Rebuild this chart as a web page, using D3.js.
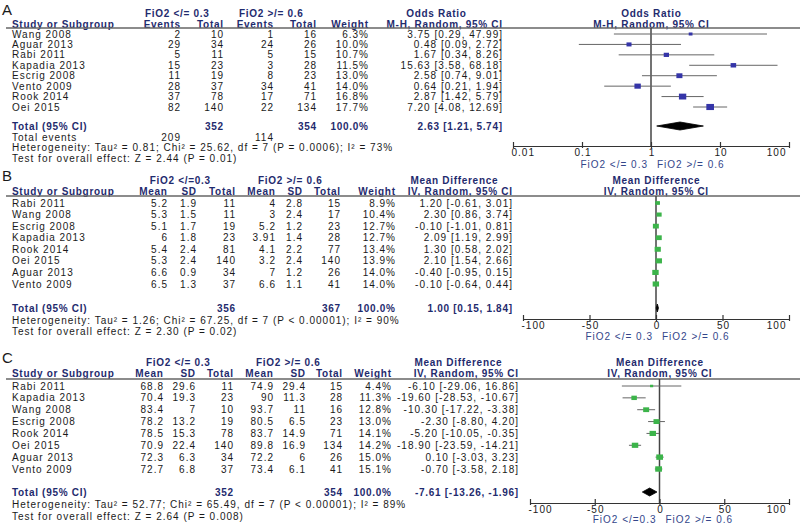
<!DOCTYPE html>
<html><head><meta charset="utf-8">
<script src="https://cdn.jsdelivr.net/npm/d3@7"></script>
<style>
html,body{margin:0;padding:0;background:#fff;}
svg text{font-family:'Liberation Sans',Arial,sans-serif;}
</style></head>
<body><svg id="chart" width="800" height="525"></svg>
<script>
// ---------------- DATA ----------------
// Panel A (Odds Ratio)
const studiesA = ["Wang 2008","Aguar 2013","Rabi 2011","Kapadia 2013","Escrig 2008","Vento 2009","Rook 2014","Oei 2015"];
const eventsA1 = [2,29,5,15,11,28,37,82];
const totalA1  = [10,34,11,23,19,37,78,140];
const eventsA2 = [1,24,5,3,8,34,17,22];
const totalA2  = [16,26,15,28,23,41,71,134];
const weightA  = [6.3,10.0,10.7,11.5,13.0,14.0,16.8,17.7];
const estA = [3.75,0.48,1.67,15.63,2.58,0.64,2.87,7.20];
const loA  = [0.29,0.09,0.34,3.58,0.74,0.21,1.42,4.08];
const hiA  = [47.99,2.72,8.26,68.18,9.01,1.94,5.79,12.69];
const totalRowA = {n1:352, n2:354, est:2.63, lo:1.21, hi:5.74, ev1:209, ev2:114};
const hetA  = "Heterogeneity: Tau² = 0.81; Chi² = 25.62, df = 7 (P = 0.0006); I² = 73%";
const testA = "Test for overall effect: Z = 2.44 (P = 0.01)";
const ticksA = [0.01,0.1,1,10,100];

// Panel B (Mean Difference)
const studiesB = ["Rabi 2011","Wang 2008","Escrig 2008","Kapadia 2013","Rook 2014","Oei 2015","Aguar 2013","Vento 2009"];
const meanB1 = [5.2,5.3,5.1,6,5.4,5.3,6.6,6.5];
const sdB1   = [1.9,1.5,1.7,1.8,2.4,2.4,0.9,1.3];
const nB1    = [11,11,19,23,81,140,34,37];
const meanB2 = [4,3,5.2,3.91,4.1,3.2,7,6.6];
const sdB2   = [2.8,2.4,1.2,1.4,2.2,2.4,1.2,1.1];
const nB2    = [15,17,23,28,77,140,26,41];
const weightB = [8.9,10.4,12.7,12.7,13.4,13.9,14.0,14.0];
const estB = [1.20,2.30,-0.10,2.09,1.30,2.10,-0.40,-0.10];
const loB  = [-0.61,0.86,-1.01,1.19,0.58,1.54,-0.95,-0.64];
const hiB  = [3.01,3.74,0.81,2.99,2.02,2.66,0.15,0.44];
const totalRowB = {n1:356, n2:367, est:1.00, lo:0.15, hi:1.84};
const hetB  = "Heterogeneity: Tau² = 1.26; Chi² = 67.25, df = 7 (P < 0.00001); I² = 90%";
const testB = "Test for overall effect: Z = 2.30 (P = 0.02)";

// Panel C (Mean Difference)
const studiesC = ["Rabi 2011","Kapadia 2013","Wang 2008","Escrig 2008","Rook 2014","Oei 2015","Aguar 2013","Vento 2009"];
const meanC1 = [68.8,70.4,83.4,78.2,78.5,70.9,72.3,72.7];
const sdC1   = [29.6,19.3,7,13.2,15.3,22.4,6.3,6.8];
const nC1    = [11,23,10,19,78,140,34,37];
const meanC2 = [74.9,90,93.7,80.5,83.7,89.8,72.2,73.4];
const sdC2   = [29.4,11.3,11,6.5,14.9,16.9,6,6.1];
const nC2    = [15,28,16,23,71,134,26,41];
const weightC = [4.4,11.3,12.8,13.0,14.1,14.2,15.0,15.1];
const estC = [-6.10,-19.60,-10.30,-2.30,-5.20,-18.90,0.10,-0.70];
const loC  = [-29.06,-28.53,-17.22,-8.80,-10.05,-23.59,-3.03,-3.58];
const hiC  = [16.86,-10.67,-3.38,4.20,-0.35,-14.21,3.23,2.18];
const totalRowC = {n1:352, n2:354, est:-7.61, lo:-13.26, hi:-1.96};
const hetC  = "Heterogeneity: Tau² = 52.77; Chi² = 65.49, df = 7 (P < 0.00001); I² = 89%";
const testC = "Test for overall effect: Z = 2.64 (P = 0.008)";
const ticksMD = [-100,-50,0,50,100];

// ---------------- STYLE ----------------
const NAVY = "#1f2b6e";
const TXT = "#1a1a1a";
const FS = 10;
const LS_REG = 1.0, LS_BOLD = 0.7;

const svg = d3.select("#chart");
svg.append("rect").attr("width",800).attr("height",525).attr("fill","#fff");

const f2 = v => v.toFixed(2);
const ciStr = (e,l,h) => `${f2(e)} [${f2(l)}, ${f2(h)}]`;

function txt(g, x, y, s, opts={}) {
  const ls = opts.ls != null ? opts.ls : (opts.bold ? LS_BOLD : LS_REG);
  const anchor = opts.anchor || "start";
  const dx = anchor === "end" ? ls : (anchor === "middle" ? ls/2 : 0);
  return g.append("text").attr("x",x + dx).attr("y",y).attr("dy","0.36em")
    .attr("font-size", opts.size || FS)
    .attr("font-weight", opts.bold ? "bold" : "normal")
    .attr("fill", opts.color || TXT)
    .attr("text-anchor", anchor)
    .attr("letter-spacing", ls)
    .text(s);
}

function drawPanel(p) {
  const g = svg.append("g");
  txt(g, 2, p.yLetter, p.letter, {size:15, ls:0});
  txt(g, p.grp1X, p.yGroup, p.grp1, {bold:true, color:NAVY, anchor:"middle"});
  txt(g, p.grp2X, p.yGroup, p.grp2, {bold:true, color:NAVY, anchor:"middle"});
  txt(g, 12, p.yHead, "Study or Subgroup", {bold:true, color:NAVY});
  p.colHeads.forEach((h,i) => txt(g, p.colX[i], p.yHead, h, {bold:true, color:NAVY, anchor:"end"}));
  txt(g, p.effHeadX, p.yGroup, p.effName, {bold:true, color:NAVY, anchor:"middle"});
  txt(g, p.ciX, p.yHead, p.method, {bold:true, color:NAVY, anchor:"end"});
  const x = p.xScale;
  const xc = (x.range()[0] + x.range()[1]) / 2;
  txt(g, xc, p.yGroup, p.effName, {bold:true, color:NAVY, anchor:"middle"});
  txt(g, xc, p.yHead, p.method, {bold:true, color:NAVY, anchor:"middle"});
  g.append("line").attr("x1",6).attr("x2",800).attr("y1",p.yLine).attr("y2",p.yLine)
    .attr("stroke","#666").attr("stroke-width",1.5);

  const y = d3.scalePoint().domain(p.studies).range([p.yRow0, p.yRow1]);

  p.studies.forEach((s,i) => {
    const yy = y(s);
    txt(g, 12, yy, s);
    p.cols.forEach((arr,j) => {
      const v = arr[i];
      const str = (j === p.cols.length-1) ? v.toFixed(1) + "%" : String(v);
      txt(g, p.colX[j], yy, str, {anchor:"end"});
    });
    txt(g, p.ciX, yy, ciStr(p.est[i], p.lo[i], p.hi[i]), {anchor:"end"});
  });

  const t = p.total;
  txt(g, 12, p.yTotal, "Total (95% CI)", {bold:true, color:NAVY});
  txt(g, p.colX[p.n1Col], p.yTotal, String(t.n1), {bold:true, color:NAVY, anchor:"end"});
  txt(g, p.colX[p.n2Col], p.yTotal, String(t.n2), {bold:true, color:NAVY, anchor:"end"});
  txt(g, p.colX[p.cols.length-1], p.yTotal, "100.0%", {bold:true, color:NAVY, anchor:"end"});
  txt(g, p.ciX, p.yTotal, ciStr(t.est, t.lo, t.hi), {bold:true, color:NAVY, anchor:"end"});
  if (p.yEvents != null) {
    txt(g, 12, p.yEvents, "Total events");
    txt(g, p.colX[0], p.yEvents, String(t.ev1), {anchor:"end"});
    txt(g, p.colX[2], p.yEvents, String(t.ev2), {anchor:"end"});
  }
  txt(g, 12, p.yHet, p.het);
  txt(g, 12, p.yTest, p.test);

  g.append("line").attr("x1",x(p.ref)).attr("x2",x(p.ref))
    .attr("y1",p.yLine).attr("y2",p.yAxis).attr("stroke","#444").attr("stroke-width",1.5);

  const sz = d3.scaleLinear().domain([4,18]).range([2.4,6.2]);
  p.studies.forEach((s,i) => {
    const yy = y(s);
    g.append("line").attr("x1",x(p.lo[i])).attr("x2",x(p.hi[i]))
      .attr("y1",yy).attr("y2",yy).attr("stroke","#666").attr("stroke-width",1);
    const w = sz(p.weight[i]) * 1.25, h = sz(p.weight[i]);
    g.append("rect").attr("x",x(p.est[i]) - w/2).attr("y",yy - h/2)
      .attr("width",w).attr("height",h).attr("fill",p.sqColor);
  });

  const dy = 4;
  g.append("path").attr("d",
    `M${x(t.lo)},${p.yTotal} L${x(t.est)},${p.yTotal-dy} L${x(t.hi)},${p.yTotal} L${x(t.est)},${p.yTotal+dy} Z`)
    .attr("fill","#000").attr("stroke","#000").attr("stroke-width",0.8);

  const ax = g.append("g").attr("transform",`translate(0,${p.yAxis})`)
    .call(d3.axisBottom(x).tickValues(p.ticks).tickFormat(d => String(d)).tickSize(0).tickPadding(3));
  ax.select(".domain").attr("stroke","#333").attr("stroke-width",1.2);
  ax.selectAll(".tick").append("line").attr("y1",-4).attr("y2",2).attr("stroke","#333").attr("stroke-width",1.2);
  ax.selectAll(".tick text").attr("font-size",FS).attr("fill",TXT).attr("letter-spacing",LS_REG)
    .attr("font-family","'Liberation Sans',Arial,sans-serif")
    .attr("text-anchor",(d,i) => i===0 ? "start" : (i===p.ticks.length-1 ? "end" : "middle"))
    .attr("dx",(d,i) => i===0 ? -2 : (i===p.ticks.length-1 ? -3 : 0.5));
  txt(g, x(p.ref) - 4, p.yFav, p.fav1, {color:"#33468a", anchor:"end"});
  txt(g, x(p.ref) + 6, p.yFav, p.fav2, {color:"#33468a"});
}

// ---------------- PANELS ----------------
drawPanel({
  letter:"A", yLetter:10, yGroup:13, yHead:24, yLine:28, yRow0:34, yRow1:107,
  yTotal:126, yEvents:137, yHet:147, yTest:158,
  grp1:"FiO2 </= 0.3", grp2:"FiO2 >/= 0.6", grp1X:177, grp2X:271,
  studies:studiesA, cols:[eventsA1,totalA1,eventsA2,totalA2,weightA],
  colHeads:["Events","Total","Events","Total","Weight"], colX:[180,223,273,316,368],
  n1Col:1, n2Col:3,
  effName:"Odds Ratio", method:"M-H, Random, 95% CI", effHeadX:436, ciX:502,
  est:estA, lo:loA, hi:hiA, weight:weightA, total:totalRowA, het:hetA, test:testA,
  xScale:d3.scaleLog().domain([0.01,100]).range([513,789]), ref:1, ticks:ticksA,
  yAxis:146, yFav:164, fav1:"FiO2 </= 0.3", fav2:"FiO2 >/= 0.6", sqColor:"#3535a8"
});

drawPanel({
  letter:"B", yLetter:176, yGroup:180, yHead:191, yLine:196, yRow0:203, yRow1:284,
  yTotal:308, yEvents:null, yHet:320, yTest:331,
  grp1:"FiO2 </=0.3", grp2:"FiO2 >/= 0.6", grp1X:180, grp2X:290,
  studies:studiesB, cols:[meanB1,sdB1,nB1,meanB2,sdB2,nB2,weightB],
  colHeads:["Mean","SD","Total","Mean","SD","Total","Weight"], colX:[167,196,235,275,302,340,395],
  n1Col:2, n2Col:5,
  effName:"Mean Difference", method:"IV, Random, 95% CI", effHeadX:454, ciX:512,
  est:estB, lo:loB, hi:hiB, weight:weightB, total:totalRowB, het:hetB, test:testB,
  xScale:d3.scaleLinear().domain([-100,100]).range([523,789]), ref:0, ticks:ticksMD,
  yAxis:319, yFav:336, fav1:"FiO2 </= 0.3", fav2:"FiO2 >/= 0.6", sqColor:"#3cb44a"
});

drawPanel({
  letter:"C", yLetter:358, yGroup:362, yHead:373, yLine:379, yRow0:386, yRow1:469,
  yTotal:492, yEvents:null, yHet:504, yTest:516,
  grp1:"FiO2 </= 0.3", grp2:"FiO2 >/= 0.6", grp1X:178, grp2X:288,
  studies:studiesC, cols:[meanC1,sdC1,nC1,meanC2,sdC2,nC2,weightC],
  colHeads:["Mean","SD","Total","Mean","SD","Total","Weight"], colX:[163,195,233,273,305,342,391],
  n1Col:2, n2Col:5,
  effName:"Mean Difference", method:"IV, Random, 95% CI", effHeadX:458, ciX:518,
  est:estC, lo:loC, hi:hiC, weight:weightC, total:totalRowC, het:hetC, test:testC,
  xScale:d3.scaleLinear().domain([-100,100]).range([530,789]), ref:0, ticks:ticksMD,
  yAxis:503, yFav:519, fav1:"FiO2 </=0.3", fav2:"FiO2 >/= 0.6", sqColor:"#3cb44a"
});
</script></body></html>
